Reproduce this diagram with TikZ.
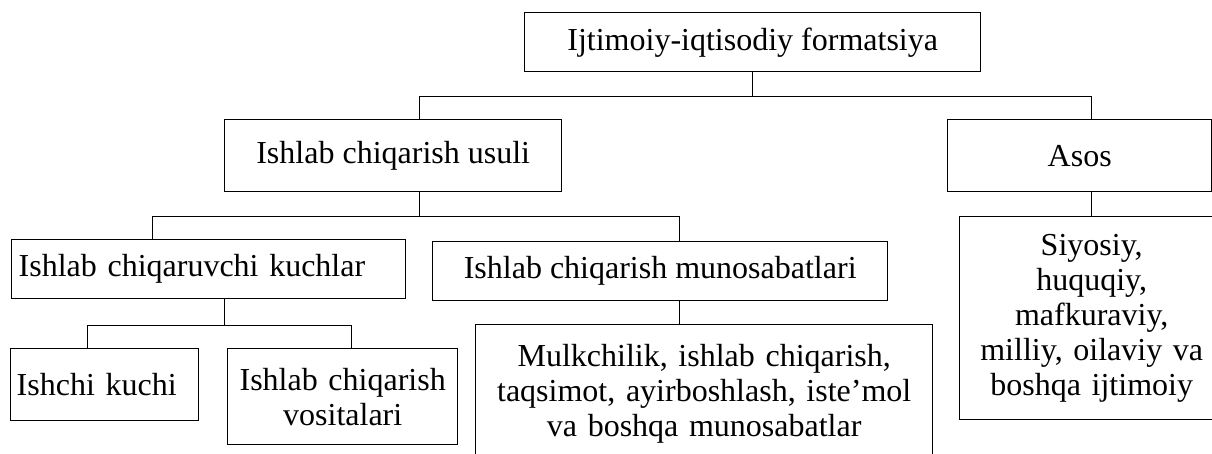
\documentclass[tikz,border=0pt]{standalone}
\usepackage{fontspec}
\setmainfont{Liberation Serif}
\usepackage{tikz}
\tikzstyle{blok}=[draw,line width=1.4pt,rectangle,anchor=north west,inner sep=6pt,font=\fontsize{32}{35}\selectfont]
\tikzstyle{chiziq}=[line width=1.4pt]

\begin{document}
\begin{tikzpicture}[x=1pt,y=-1pt]
\useasboundingbox (0,0) rectangle (1212,454);

\node[blok,minimum width=456pt,minimum height=59pt] (top) at (524,12) {Ijtimoiy-iqtisodiy formatsiya};
\node[blok,minimum width=337pt,minimum height=72pt] (usuli) at (224,119) {Ishlab chiqarish usuli};
\node[blok,minimum width=264pt,minimum height=72pt] (asos) at (947,119) {Asos};

\node[blok,text width=380pt,align=left,minimum height=59pt,inner xsep=7pt] (kuchlar) at (11,239) {Ishlab chiqaruvchi kuchlar};
\node[blok,minimum width=455pt,minimum height=59pt] (munos) at (432,241) {Ishlab chiqarish munosabatlari};
\node[blok,text width=252pt,align=center,minimum height=203pt] (siyos) at (959,216)
      {Siyosiy,\\ huquqiy,\\ mafkuraviy,\\ milliy, oilaviy va\\ boshqa ijtimoiy};

\node[blok,text width=176pt,align=left,minimum height=72pt] (ishchi) at (10,348) {Ishchi kuchi\\[-8pt]};
\node[blok,text width=218pt,align=center,minimum height=96pt] (vosit) at (227,348) {Ishlab chiqarish\\ vositalari};
\node[blok,text width=445pt,align=center,minimum height=138pt] (mulk) at (475,324)
      {Mulkchilik, ishlab chiqarish,\\ taqsimot, ayirboshlash, iste’mol\\ va boshqa munosabatlar};

\draw[chiziq] (top.south) -- ++(0,24) coordinate (j1);
\draw[chiziq] ([xshift=26.5pt]usuli.north) |- (j1) -| ([xshift=12pt]asos.north);
\draw[chiziq] ([xshift=12pt]asos.south) -- (siyos.north);

\draw[chiziq] ([xshift=26.5pt]usuli.south) -- ++(0,24) coordinate (j2);
\draw[chiziq] ([xshift=-56pt]kuchlar.north) |- (j2) -| ([xshift=19.5pt]munos.north);
\draw[chiziq] ([xshift=19.5pt]munos.south) -- ([xshift=-24.5pt]mulk.north);

\draw[chiziq] ([xshift=16pt]kuchlar.south) -- ++(0,26) coordinate (j3);
\draw[chiziq] ([xshift=-17pt]ishchi.north) |- (j3) -| ([xshift=9pt]vosit.north);
\end{tikzpicture}
\end{document}
